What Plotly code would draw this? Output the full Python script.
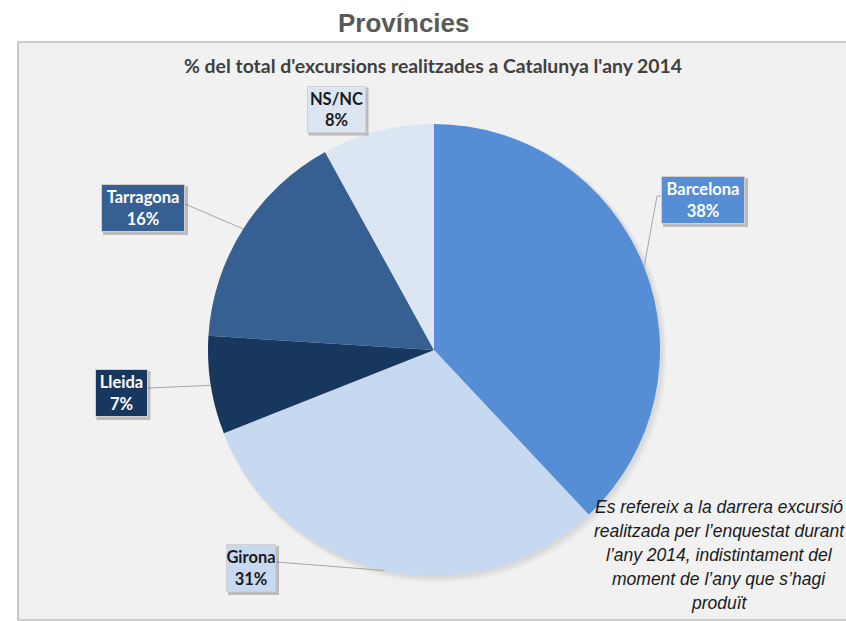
import math
import plotly.graph_objects as go

# ---- data ----
categories = ["Barcelona", "Girona", "Lleida", "Tarragona", "NS/NC"]
values = [38, 31, 7, 16, 8]
colors = ["#558ED5", "#C6D9F1", "#17375E", "#376092", "#DCE6F2"]
label_text_colors = ["white", "#1a1a1a", "white", "white", "#1a1a1a"]

title_text = "Províncies"
subtitle_text = "% del total d'excursions realitzades a Catalunya l'any 2014"
note_lines = ["Es refereix a la darrera excursió",
              "realitzada per l’enquestat durant",
              "l’any 2014, indistintament del",
              "moment de l’any que s’hagi",
              "produït"]

# ---- layout (pixels) ----
W, H = 846, 621
cx, cy, r = 434, 350, 226
boxes = {
    "Barcelona": dict(c=(703, 200), size=(84, 48), anchor=(657, 196), end=(662, 196)),
    "Girona": dict(c=(251, 568), size=(50, 48), anchor=(277, 562), end=None),
    "Lleida": dict(c=(121, 393), size=(53, 48), anchor=(148, 388), end=None),
    "Tarragona": dict(c=(143, 208), size=(84, 48), anchor=(185, 204), end=None),
    "NS/NC": dict(c=(336, 109), size=(59, 47), anchor=None, end=None),
}

def px(x):
    return x / W

def py(y):
    return 1 - y / H

fig = go.Figure()
fig.add_trace(go.Pie(
    labels=categories, values=values, sort=False, direction="clockwise",
    rotation=0, marker=dict(colors=colors, line=dict(width=0)),
    textinfo="none", hoverinfo="label+percent", showlegend=False,
    domain=dict(x=[px(cx - r), px(cx + r)], y=[py(cy + r), py(cy - r)]),
))

shapes = []
shapes.append(dict(type="rect", xref="paper", yref="paper", x0=px(18), x1=px(850),
                   y0=py(620), y1=py(42), fillcolor="#F1F1F1",
                   line=dict(color="#BDBDBD", width=1.5), layer="below"))
for i, a in enumerate([0.035, 0.03, 0.025]):
    d = 3 + 2 * i
    shapes.append(dict(type="circle", xref="paper", yref="paper",
                       x0=px(cx - r + 1), x1=px(cx + r + d),
                       y0=py(cy + r + d), y1=py(cy - r + 1),
                       fillcolor=f"rgba(0,0,0,{a})", line=dict(width=0), layer="below"))

annotations = []
total = sum(values)
cum = 0
for cat, v, col, tcol in zip(categories, values, colors, label_text_colors):
    mid = (cum + v / 2) / total * 2 * math.pi
    cum += v
    ex, ey = cx + r * math.sin(mid), cy - r * math.cos(mid)
    b = boxes[cat]
    if b["anchor"] is not None:
        path = f"M {px(ex)},{py(ey)} L {px(b['anchor'][0])},{py(b['anchor'][1])}"
        if b["end"] is not None:
            path += f" L {px(b['end'][0])},{py(b['end'][1])}"
        shapes.append(dict(type="path", xref="paper", yref="paper", path=path,
                           line=dict(color="#A6A6A6", width=1)))
    bx, by = b["c"]
    bw, bh = b["size"]
    shapes.append(dict(type="rect", xref="paper", yref="paper",
                       x0=px(bx - bw / 2 + 2), x1=px(bx + bw / 2 + 3),
                       y0=py(by + bh / 2 + 3), y1=py(by - bh / 2 + 2),
                       fillcolor="rgba(0,0,0,0.22)", line=dict(width=0)))
    annotations.append(dict(
        xref="paper", yref="paper", x=px(bx), y=py(by), xanchor="center", yanchor="middle",
        text=f"<b>{cat}<br>{v}%</b>", showarrow=False, align="center",
        width=bw - 2, height=bh - 2, bgcolor=col, bordercolor="#D0D0D0", borderwidth=1,
        borderpad=0, font=dict(family="Lato, Carlito, sans-serif", size=16.5, color=tcol),
    ))

annotations.append(dict(xref="paper", yref="paper", x=px(404), y=py(23), xanchor="center",
                        yanchor="middle", showarrow=False, text=f"<b>{title_text}</b>",
                        font=dict(family="Liberation Sans Narrow, Arial Narrow, Liberation Sans, sans-serif",
                                  size=26, color="#595959")))
annotations.append(dict(xref="paper", yref="paper", x=px(433), y=py(65), xanchor="center",
                        yanchor="middle", showarrow=False, text=f"<b>{subtitle_text}</b>",
                        font=dict(family="Lato, Carlito, sans-serif", size=19.4, color="#404040")))
for i, line in enumerate(note_lines):
    annotations.append(dict(xref="paper", yref="paper", x=px(719), y=py(507 + 24 * i),
                            xanchor="center", yanchor="middle", showarrow=False,
                            text=f"<i>{line}</i>",
                            font=dict(family="Liberation Sans Narrow, Arial Narrow, Liberation Sans, sans-serif",
                                      size=17.5, color="#1a1a1a")))

fig.update_layout(width=W, height=H, margin=dict(l=0, r=0, t=0, b=0),
                  paper_bgcolor="white", plot_bgcolor="white",
                  shapes=shapes, annotations=annotations)

fig.write_html("out.html", config={"displayModeBar": False},
               post_script="document.body.style.margin='0';")
